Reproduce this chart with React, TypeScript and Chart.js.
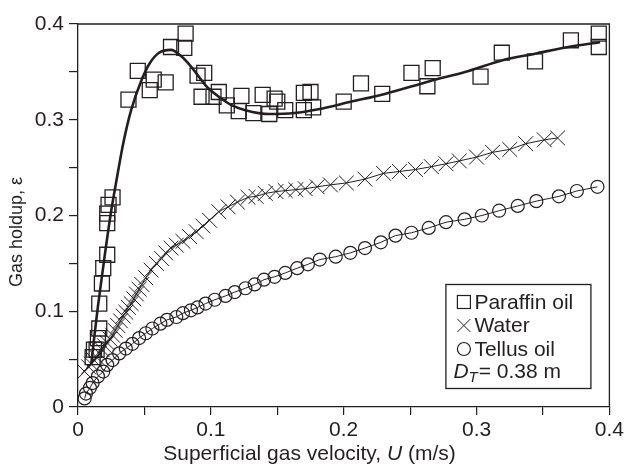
import React, { useEffect, useRef } from "react";
import { Chart, registerables } from "chart.js";

Chart.register(...registerables);

// ---------- data ----------
const xTickLabels = ["0", "0.1", "0.2", "0.3", "0.4"];
const yTickLabels = ["0", "0.1", "0.2", "0.3", "0.4"];

const paraffinU = [
  0.011, 0.012, 0.014, 0.015, 0.016, 0.016, 0.018, 0.019, 0.022, 0.022, 0.022, 0.023, 0.026,
  0.038, 0.045, 0.054, 0.057, 0.066, 0.070, 0.080, 0.081, 0.090, 0.093, 0.095, 0.102, 0.106,
  0.112, 0.121, 0.123, 0.132, 0.139, 0.144, 0.148, 0.150, 0.156, 0.170, 0.170, 0.175, 0.177,
  0.200, 0.213, 0.229, 0.251, 0.263, 0.267, 0.303, 0.319, 0.344, 0.371, 0.392, 0.392,
];
const paraffinHoldup = [
  0.052, 0.060, 0.060, 0.072, 0.082, 0.108, 0.129, 0.145, 0.159, 0.192, 0.202, 0.211, 0.219,
  0.321, 0.351, 0.331, 0.342, 0.339, 0.376, 0.375, 0.390, 0.346, 0.324, 0.349, 0.324, 0.329,
  0.315, 0.309, 0.325, 0.307, 0.326, 0.306, 0.322, 0.319, 0.310, 0.328, 0.310, 0.329, 0.313,
  0.319, 0.338, 0.327, 0.349, 0.335, 0.354, 0.345, 0.370, 0.361, 0.383, 0.390, 0.376,
];

const paraffinFitU = [
  0.010, 0.012, 0.015, 0.020, 0.025, 0.029, 0.034, 0.040, 0.048, 0.054, 0.061, 0.070, 0.078,
  0.086, 0.096, 0.106, 0.116, 0.126, 0.144, 0.163, 0.181, 0.206, 0.231, 0.264, 0.294, 0.319,
  0.344, 0.369, 0.393,
];
const paraffinFitHoldup = [
  0.045, 0.070, 0.105, 0.157, 0.205, 0.237, 0.275, 0.310, 0.342, 0.359, 0.370, 0.373, 0.366,
  0.354, 0.336, 0.324, 0.315, 0.310, 0.306, 0.307, 0.311, 0.319, 0.327, 0.340, 0.351, 0.362,
  0.369, 0.376, 0.381,
];

const waterU = [
  0.005, 0.008, 0.010, 0.012, 0.014, 0.016, 0.018, 0.020, 0.022, 0.024, 0.026, 0.028, 0.030,
  0.032, 0.034, 0.036, 0.038, 0.040, 0.042, 0.044, 0.046, 0.048, 0.051, 0.055, 0.059, 0.063,
  0.066, 0.070, 0.074, 0.079, 0.084, 0.089, 0.094, 0.099, 0.106, 0.113, 0.120, 0.128, 0.134,
  0.141, 0.149, 0.156, 0.164, 0.171, 0.180, 0.190, 0.202, 0.216, 0.230, 0.242, 0.254, 0.266,
  0.277, 0.287, 0.300, 0.312, 0.325, 0.337, 0.351, 0.361,
];
const waterHoldup = [
  0.037, 0.042, 0.045, 0.049, 0.052, 0.056, 0.060, 0.064, 0.067, 0.071, 0.075, 0.080, 0.085,
  0.090, 0.095, 0.099, 0.104, 0.108, 0.113, 0.118, 0.123, 0.128, 0.135, 0.143, 0.150, 0.155,
  0.161, 0.166, 0.169, 0.173, 0.178, 0.183, 0.189, 0.195, 0.204, 0.209, 0.214, 0.219, 0.220,
  0.223, 0.225, 0.226, 0.227, 0.228, 0.230, 0.232, 0.234, 0.238, 0.244, 0.246, 0.248, 0.251,
  0.254, 0.257, 0.261, 0.266, 0.269, 0.275, 0.279, 0.281,
];

const tellusU = [
  0.005, 0.006, 0.009, 0.011, 0.015, 0.019, 0.022, 0.026, 0.031, 0.036, 0.041, 0.046, 0.051,
  0.056, 0.062, 0.067, 0.074, 0.079, 0.085, 0.090, 0.096, 0.103, 0.111, 0.118, 0.126, 0.133,
  0.140, 0.148, 0.156, 0.165, 0.173, 0.182, 0.194, 0.205, 0.216, 0.228, 0.239, 0.251, 0.264,
  0.277, 0.291, 0.304, 0.317, 0.331, 0.345, 0.362, 0.3755, 0.391,
];
const tellusHoldup = [
  0.009, 0.014, 0.020, 0.025, 0.032, 0.037, 0.044, 0.049, 0.056, 0.061, 0.066, 0.072, 0.077,
  0.082, 0.087, 0.091, 0.094, 0.098, 0.101, 0.104, 0.108, 0.112, 0.116, 0.120, 0.124, 0.128,
  0.133, 0.136, 0.140, 0.145, 0.149, 0.154, 0.157, 0.161, 0.166, 0.172, 0.179, 0.182, 0.187,
  0.193, 0.196, 0.200, 0.205, 0.210, 0.215, 0.220, 0.2256, 0.230,
];

const legendLabels = ["Paraffin oil", "Water", "Tellus oil"];
const columnDiameterText = "= 0.38 m";

// ---------- helpers ----------
const INK = "#231f20";
const FONT = "'Liberation Sans', Arial, Helvetica, sans-serif";

const zip = (xs: number[], ys: number[]) =>
  xs.slice(0, Math.min(xs.length, ys.length)).map((x, i) => ({ x, y: ys[i] }));

const tickLabel = (labels: string[]) => (v: number | string) => {
  const n = Math.round(Number(v) * 20);
  return n % 2 === 0 ? labels[n / 2] ?? "" : "";
};

const decorPlugin = {
  id: "decor",
  afterDraw(chart: any) {
    const { ctx, chartArea } = chart;
    const { left, right, top, bottom } = chartArea;
    ctx.save();
    // frame top & right
    ctx.strokeStyle = INK;
    ctx.lineWidth = 1.3;
    ctx.beginPath();
    ctx.moveTo(left, top);
    ctx.lineTo(right, top);
    ctx.lineTo(right, bottom);
    ctx.stroke();

    // axis titles
    ctx.fillStyle = INK;
    ctx.textBaseline = "middle";
    // x title with italic U
    const p1 = "Superficial gas velocity, ";
    const p2 = "U";
    const p3 = " (m/s)";
    ctx.font = `21px ${FONT}`;
    const w1 = ctx.measureText(p1).width;
    const w3 = ctx.measureText(p3).width;
    ctx.font = `italic 21px ${FONT}`;
    const w2 = ctx.measureText(p2).width;
    const total = w1 + w2 + w3;
    let tx = chart.width / 2 - 4 - total / 2;
    const ty = chart.height - 10;
    ctx.textAlign = "left";
    ctx.font = `21px ${FONT}`;
    ctx.fillText(p1, tx, ty);
    tx += w1;
    ctx.font = `italic 21px ${FONT}`;
    ctx.fillText(p2, tx, ty);
    tx += w2;
    ctx.font = `21px ${FONT}`;
    ctx.fillText(p3, tx, ty);

    // y title
    ctx.save();
    ctx.translate(17, chart.height / 2);
    ctx.rotate(-Math.PI / 2);
    ctx.textAlign = "center";
    ctx.font = `18px ${FONT}`;
    ctx.fillText("Gas holdup, \u03b5", 0, 0);
    ctx.restore();

    // legend box
    const bx = right - 164;
    const by = bottom - 123;
    const bw = 145;
    const bh = 104;
    ctx.lineWidth = 1.3;
    ctx.strokeStyle = INK;
    ctx.strokeRect(bx + 0.5, by + 0.5, bw, bh);

    const mx = bx + 18.5;
    const rows = [by + 18, by + 41.5, by + 65, by + 88];
    ctx.lineWidth = 1.2;
    // square
    ctx.strokeRect(mx - 6.5, rows[0] - 6.5, 13, 13);
    // cross
    ctx.lineWidth = 1;
    ctx.beginPath();
    ctx.moveTo(mx - 6.5, rows[1] - 6.5);
    ctx.lineTo(mx + 6.5, rows[1] + 6.5);
    ctx.moveTo(mx + 6.5, rows[1] - 6.5);
    ctx.lineTo(mx - 6.5, rows[1] + 6.5);
    ctx.stroke();
    // circle
    ctx.lineWidth = 1.2;
    ctx.beginPath();
    ctx.arc(mx, rows[2], 6.5, 0, Math.PI * 2);
    ctx.stroke();

    ctx.textAlign = "left";
    ctx.font = `21px ${FONT}`;
    legendLabels.forEach((t, i) => ctx.fillText(t, bx + 29, rows[i] + 1));

    // D_T = 0.38 m
    let dx = bx + 8;
    ctx.font = `italic 21px ${FONT}`;
    ctx.fillText("D", dx, rows[3]);
    dx += ctx.measureText("D").width;
    ctx.font = `italic 15px ${FONT}`;
    ctx.fillText("T", dx, rows[3] + 6);
    dx += ctx.measureText("T").width + 1;
    ctx.font = `21px ${FONT}`;
    ctx.fillText(columnDiameterText, dx, rows[3]);
    ctx.restore();
  },
};

export default function App() {
  const ref = useRef<HTMLCanvasElement | null>(null);

  useEffect(() => {
    document.body.style.margin = "0";
    const canvas = ref.current;
    if (!canvas) return;
    const chart = new Chart(canvas, {
      type: "scatter",
      data: {
        datasets: [
          {
            label: "Paraffin oil",
            data: zip(paraffinU, paraffinHoldup),
            pointStyle: "rect",
            pointRadius: 10.6,
            pointBorderWidth: 1.3,
            pointBorderColor: INK,
            pointBackgroundColor: "rgba(0,0,0,0)",
            showLine: false,
          },
          {
            label: "Paraffin fit",
            data: zip(paraffinFitU, paraffinFitHoldup),
            showLine: true,
            pointRadius: 0,
            borderColor: INK,
            borderWidth: 2.6,
            cubicInterpolationMode: "monotone",
          },
          {
            label: "Water",
            data: zip(waterU, waterHoldup),
            showLine: true,
            borderColor: INK,
            borderWidth: 1,
            pointStyle: "crossRot",
            pointRadius: 10.5,
            pointBorderWidth: 1,
            pointBorderColor: INK,
            pointBackgroundColor: "rgba(0,0,0,0)",
          },
          {
            label: "Tellus oil",
            data: zip(tellusU, tellusHoldup),
            showLine: true,
            borderColor: INK,
            borderWidth: 1,
            pointStyle: "circle",
            pointRadius: 6.5,
            pointBorderWidth: 1.2,
            pointBorderColor: INK,
            pointBackgroundColor: "rgba(0,0,0,0)",
          },
        ],
      },
      options: {
        animation: false,
        responsive: false,
        devicePixelRatio: 1,
        clip: false,
        layout: { padding: { top: 24, right: 15, left: 0, bottom: 0 } },
        plugins: {
          legend: { display: false },
          tooltip: { enabled: false },
        },
        scales: {
          x: {
            type: "linear",
            min: 0,
            max: 0.4,
            afterFit: (s: any) => {
              s.height = 57;
            },
            grid: {
              drawOnChartArea: false,
              drawTicks: true,
              tickLength: 8,
              color: INK,
              lineWidth: 1.2,
            },
            border: { display: true, color: INK, width: 1.3 },
            ticks: {
              stepSize: 0.05,
              autoSkip: false,
              maxRotation: 0,
              padding: 3,
              color: INK,
              font: { family: FONT, size: 21 },
              callback: tickLabel(xTickLabels),
            },
            title: { display: false },
          },
          y: {
            type: "linear",
            min: 0,
            max: 0.4,
            afterFit: (s: any) => {
              s.width = 78;
            },
            grid: {
              drawOnChartArea: false,
              drawTicks: true,
              tickLength: 9,
              color: INK,
              lineWidth: 1.2,
            },
            border: { display: true, color: INK, width: 1.3 },
            ticks: {
              stepSize: 0.05,
              autoSkip: false,
              padding: 5,
              color: INK,
              font: { family: FONT, size: 21 },
              callback: tickLabel(yTickLabels),
            },
            title: { display: false },
          },
        },
      },
      plugins: [decorPlugin],
    } as any);
    return () => chart.destroy();
  }, []);

  return (
    <div style={{ position: "absolute", left: 0, top: 0, width: 627, height: 464, background: "#fff" }}>
      <canvas ref={ref} width={627} height={464} style={{ display: "block" }} />
    </div>
  );
}
